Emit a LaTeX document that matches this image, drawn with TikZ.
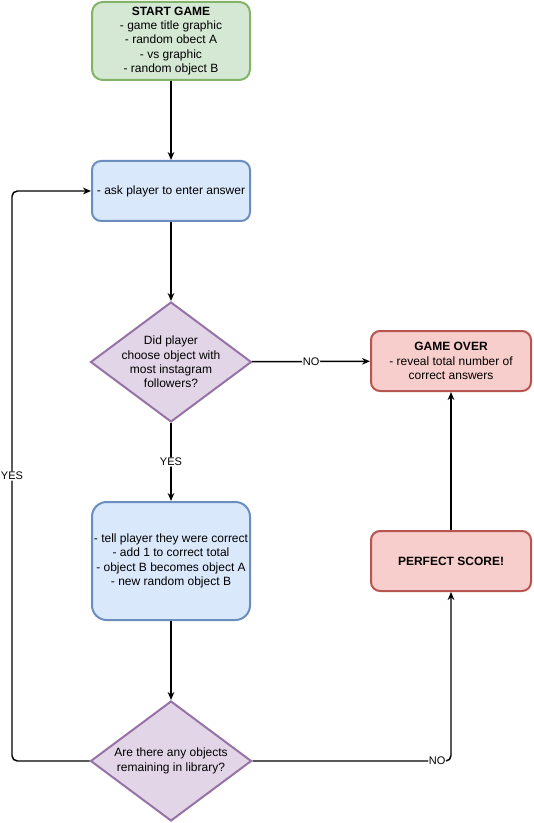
\documentclass[tikz,border=0pt]{standalone}
\usepackage{fontspec}
\setmainfont{Liberation Sans}
\usetikzlibrary{shapes.geometric,arrows.meta}
\definecolor{gfill}{HTML}{D5E8D4}\definecolor{gline}{HTML}{82B366}
\definecolor{bfill}{HTML}{DAE8FC}\definecolor{bline}{HTML}{6C8EBF}
\definecolor{pfill}{HTML}{E1D5E7}\definecolor{pline}{HTML}{9673A6}
\definecolor{rfill}{HTML}{F8CECC}\definecolor{rline}{HTML}{B85450}
\tikzset{
  box/.style={draw, line width=1.5pt, align=center, inner sep=0pt,
    font=\fontsize{9}{10.8}\selectfont},
  startbox/.style={box, fill=gfill, draw=gline, minimum width=118.5pt, minimum height=58.5pt, rounded corners=8pt},
  stepbox/.style={box, fill=bfill, draw=bline, minimum width=118.5pt},
  endbox/.style={box, fill=rfill, draw=rline, minimum width=120pt, minimum height=45pt, rounded corners=6.75pt},
  decision/.style={diamond, draw=pline, fill=pfill, line width=1.5pt, inner sep=0pt,
    minimum width=120.75pt, minimum height=90pt},
  dtext/.style={align=center, inner sep=0pt, font=\fontsize{9}{10.8}\selectfont},
  flow/.style={draw, line width=1.1pt, -{Stealth[length=6pt,width=5pt]}, rounded corners=4pt},
  elabel/.style={fill=white, inner sep=0.6pt, font=\fontsize{8.25}{9}\selectfont}
}
\begin{document}
\begin{tikzpicture}[x=0.75pt,y=-0.75pt]
\useasboundingbox (0,0) rectangle (533,823);
% boxes
\node[startbox] (start) at (171,41) {\textbf{START GAME}\\- game title graphic\\- random obect A\\- vs graphic\\- random object B};
\node[stepbox, minimum height=45pt, rounded corners=6.75pt] (ask) at (171,191) {- ask player to enter answer};
\node[decision] (q1) at (171,362) {};
\node[dtext] (q1t) at (171,362) {Did player\\choose object with\\most instagram\\followers?};
\node[endbox] (over) at (451,361) {\textbf{GAME OVER}\\- reveal total number of\\correct answers};
\node[stepbox, minimum height=88.5pt, rounded corners=11pt] (tell) at (171,561) {- tell player they were correct\\- add 1 to correct total\\- object B becomes object A\\- new random object B};
\node[endbox] (perfect) at (451,561) {\textbf{PERFECT SCORE!}};
\node[decision] (q2) at (171,761) {};
\node[dtext] (q2t) at (171,761) {Are there any objects\\remaining in library?};
% loop corners
\coordinate (lb) at (12,761);
\coordinate (lt) at (12,191);
\coordinate (rb) at (451,761);
% connectors
\draw[flow] (start) -- (ask);
\draw[flow] (ask) -- (q1);
\draw[flow] (q1) -- node[elabel, pos=0.5] {NO} (over);
\draw[flow] (q1) -- node[elabel, pos=0.5] {YES} (tell);
\draw[flow] (tell) -- (q2);
\draw[flow] (perfect) -- (over);
\draw[flow] (q2.west) -- (lb) -- node[elabel, pos=0.5] {YES} (lt) -- (ask.west);
\draw[flow] (q2.east) -- node[elabel, pos=0.93] {NO} (rb) -- (perfect.south);
\end{tikzpicture}
\end{document}
